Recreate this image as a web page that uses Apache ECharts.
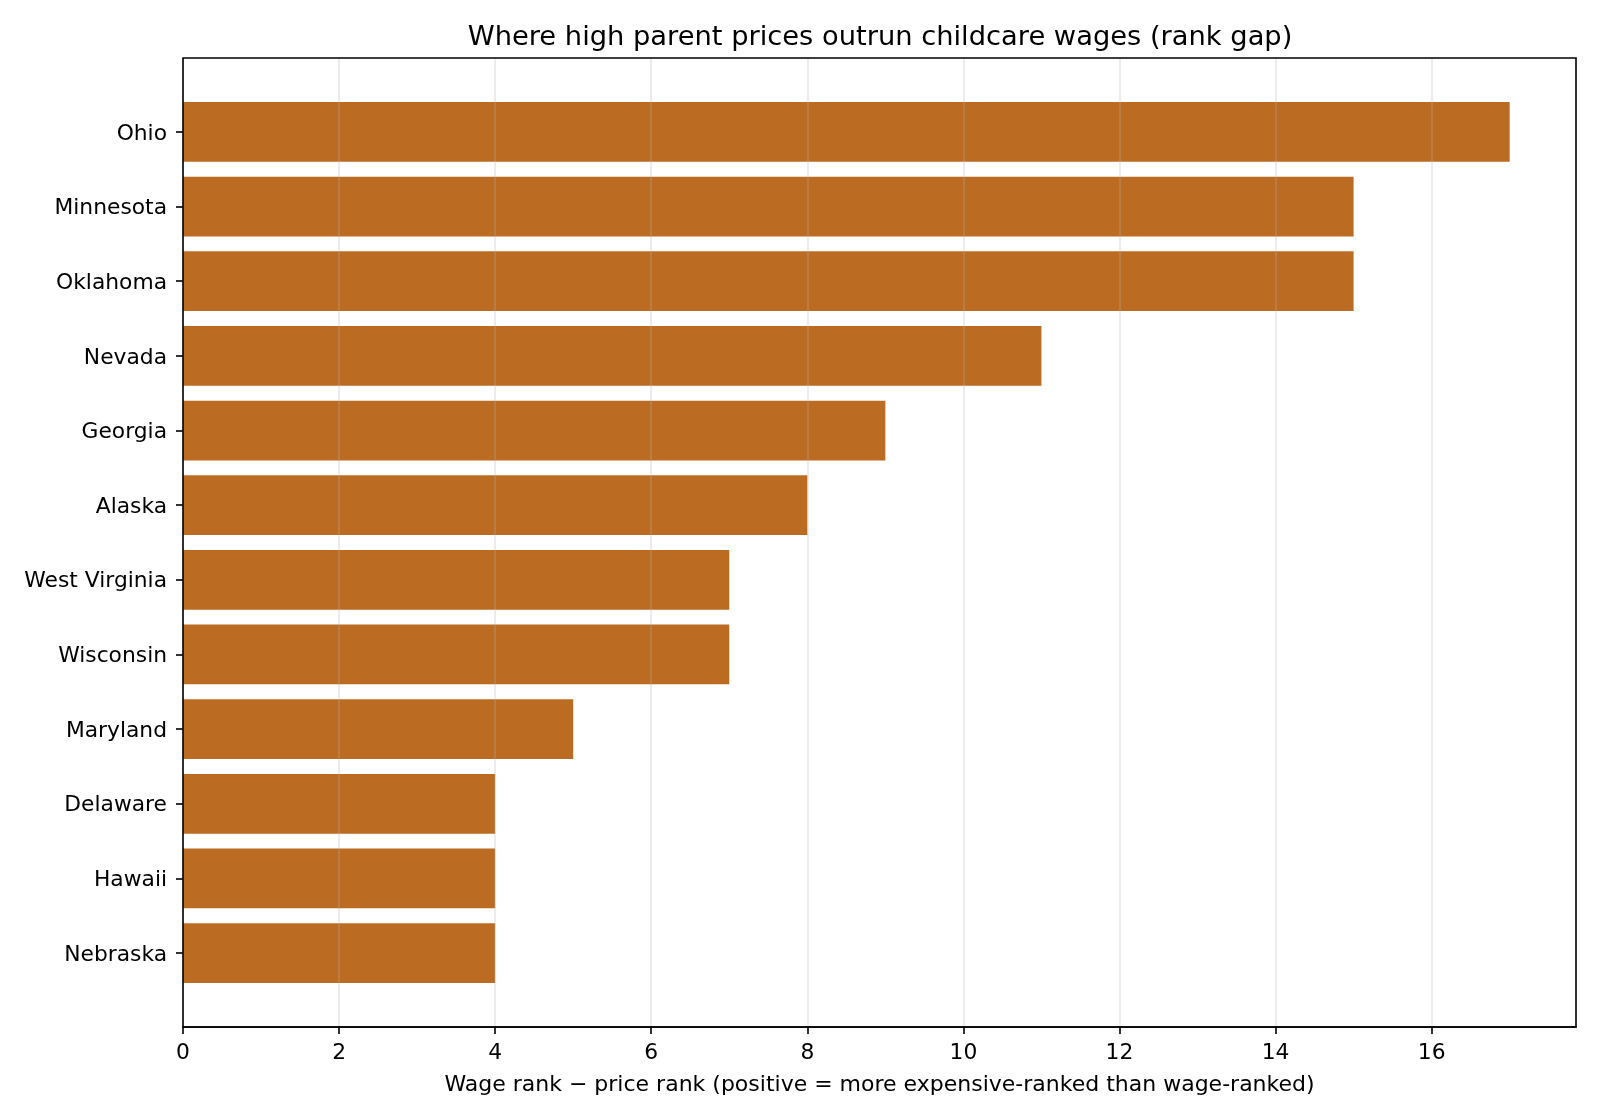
<!DOCTYPE html>
<html lang="en">

<head>
	<meta charset="UTF-8">
	<title>Rank gap</title>
	<script src="https://cdn.jsdelivr.net/npm/echarts@6/dist/echarts.min.js"></script>
	<style>
		html, body { margin: 0; padding: 0; background: #fff; }
	</style>
</head>

<body>
	<div id="main" style="width: 1600px;height: 1120px;"></div>

	<script>
		// states, top to bottom
		var states = ['Ohio', 'Minnesota', 'Oklahoma', 'Nevada', 'Georgia', 'Alaska',
			'West Virginia', 'Wisconsin', 'Maryland', 'Delaware', 'Hawaii', 'Nebraska'];
		var rankGap = [17, 15, 15, 11, 9, 8, 7, 7, 5, 4, 4, 4];
		var xTicks = [0, 2, 4, 6, 8, 10, 12, 14, 16];

		var font = 'DejaVu Sans';
		var xMax = 17.85; // matplotlib 5% margin past 17

		var chartDom = document.getElementById('main');
		var myChart = echarts.init(chartDom);
		var option;

		option = {
			animation: false,
			backgroundColor: '#fff',
			title: {
				text: 'Where high parent prices outrun childcare wages (rank gap)',
				left: 880,
				top: 24,
				padding: 0,
				textAlign: 'center',
				textStyle: { fontFamily: font, fontSize: 27.3, fontWeight: 'normal', color: '#000' }
			},
			grid: [
				// frame
				{ left: 183, right: 24, top: 58, bottom: 93, show: true, borderColor: '#000', borderWidth: 1.6, backgroundColor: 'transparent', z: 5 },
				// bars (category bands sit inside the padded frame)
				{ left: 183, right: 24, top: 94.6, bottom: 129.6 }
			],
			xAxis: [
				{
					gridIndex: 0,
					type: 'value',
					min: 0,
					max: xMax,
					z: 3,
					axisLine: { show: true, lineStyle: { color: '#000', width: 1.6 } },
					axisTick: { show: true, length: 7, customValues: xTicks, lineStyle: { color: '#000', width: 1.6 } },
					axisLabel: { customValues: xTicks, margin: 15, fontFamily: font, fontSize: 21.8, color: '#000' },
					splitLine: { show: true, lineStyle: { color: 'rgba(176,176,176,0.3)', width: 1.6 } },
					name: 'Wage rank \u2212 price rank (positive = more expensive-ranked than wage-ranked)',
					nameLocation: 'middle',
					nameGap: 47,
					nameTextStyle: { fontFamily: font, fontSize: 22, color: '#000' }
				},
				{
					gridIndex: 1,
					type: 'value',
					min: 0,
					max: xMax,
					show: false
				}
			],
			yAxis: [
				{
					gridIndex: 0,
					type: 'value',
					show: false
				},
				{
					gridIndex: 1,
					type: 'category',
					inverse: true,
					data: states,
					axisLine: { show: false },
					axisTick: { show: true, alignWithLabel: true, length: 7, lineStyle: { color: '#000', width: 1.6 } },
					// small line box hung from the tick nudges the text ~2px down, like matplotlib
					axisLabel: { margin: 16, verticalAlign: 'top', lineHeight: 4, fontFamily: font, fontSize: 21.8, color: '#000' },
					splitLine: { show: false }
				}
			],
			series: [
				{
					type: 'bar',
					xAxisIndex: 1,
					yAxisIndex: 1,
					data: rankGap,
					barCategoryGap: '20%',
					itemStyle: { color: '#bc6c22' }
				}
			]
		};

		option && myChart.setOption(option);
	</script>
</body>

</html>
